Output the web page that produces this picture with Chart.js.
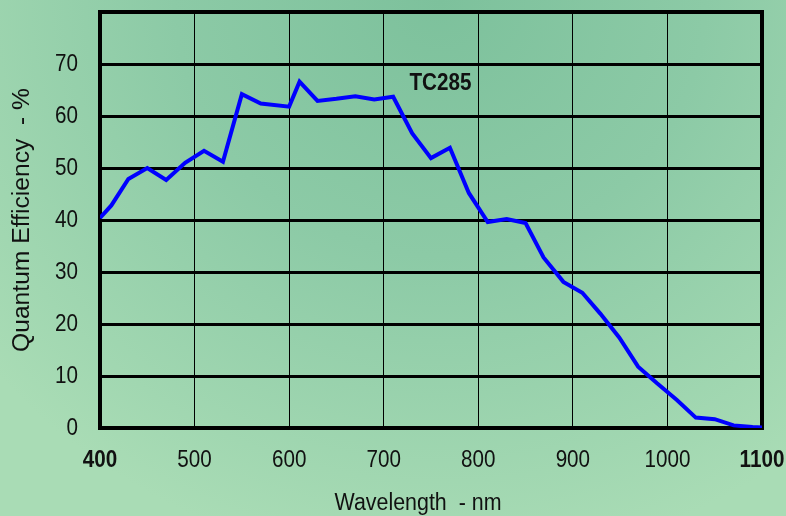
<!DOCTYPE html>
<html>
<head>
<meta charset="utf-8">
<script src="https://cdn.jsdelivr.net/npm/chart.js@4.4.0/dist/chart.umd.min.js"></script>
<style>
    html, body { margin: 0; padding: 0; }
    body {
        width: 786px;
        height: 516px;
        overflow: hidden;
        background: radial-gradient(ellipse 75% 110% at 56% 0%, #7dc19c 0%, #8ccaa6 45%, #a9dcb5 100%);
    }
    #wrap { position: relative; width: 786px; height: 516px; }
</style>
</head>
<body>
<div id="wrap"><canvas id="qe"></canvas></div>
<script>
// wavelength (nm) and quantum efficiency (%)
const wavelengths = [400, 412, 430, 450, 470, 490, 510, 530, 550, 570, 600, 611, 630, 650, 670, 690, 710,
    730, 750, 770, 790, 810, 830, 850, 869, 890, 910, 929, 949, 969, 989, 1010, 1030, 1050, 1070, 1090, 1100];
const efficiency = [40.4, 42.8, 47.9, 50.0, 47.7, 51.0, 53.3, 51.2, 64.2, 62.4, 61.8, 66.6, 62.9, 63.3, 63.8, 63.2, 63.7,
    56.7, 51.9, 53.9, 45.2, 39.6, 40.2, 39.4, 32.8, 28.1, 26.0, 22.0, 17.4, 11.8, 8.6, 5.4, 2.0, 1.7, 0.5, 0.2, 0.1];
const xTicks = [400, 500, 600, 700, 800, 900, 1000, 1100];
const boldXTicks = [400, 1100];
const yTicks = [0, 10, 20, 30, 40, 50, 60, 70];
const seriesName = 'TC285';

const sans = '"Liberation Sans", Arial, sans-serif';
const squeeze = 0.86; // the original uses a condensed face

let points = wavelengths.map((w, i) => ({ x: w, y: efficiency[i] }));

// frame around the plot area, drawn under the curve
const frame = {
    id: 'frame',
    beforeDatasetsDraw(chart) {
        const { ctx, chartArea: a } = chart;
        ctx.save();
        ctx.strokeStyle = '#000';
        ctx.lineWidth = 4;
        ctx.strokeRect(a.left, a.top, a.right - a.left, a.bottom - a.top);
        ctx.restore();
    }
};

function drawText(ctx, text, x, y, sx, rotate) {
    ctx.save();
    ctx.translate(x, y);
    if (rotate) { ctx.rotate(-Math.PI / 2); }
    ctx.scale(sx, 1);
    ctx.fillText(text, 0, 0);
    ctx.restore();
}

// text squeezed or stretched to a given width
function fitText(ctx, text, x, y, width, rotate) {
    drawText(ctx, text, x, y, width / ctx.measureText(text).width, rotate);
}

// tick labels, axis titles and the series label
const texts = {
    id: 'texts',
    afterDraw(chart) {
        const { ctx, scales, chartArea: a } = chart;
        ctx.save();
        ctx.fillStyle = '#111';
        ctx.textBaseline = 'middle';

        ctx.textAlign = 'right';
        ctx.font = '24px ' + sans;
        yTicks.forEach(v => drawText(ctx, String(v), 78, scales.y.getPixelForValue(v), squeeze, false));

        ctx.textAlign = 'center';
        xTicks.forEach(v => {
            ctx.font = (boldXTicks.includes(v) ? 'bold ' : '') + '24px ' + sans;
            drawText(ctx, String(v), scales.x.getPixelForValue(v), a.bottom + 32, squeeze, false);
        });

        ctx.font = '23px ' + sans;
        fitText(ctx, 'Wavelength  - nm', 418, 504, 167, false);
        fitText(ctx, 'Quantum Efficiency  - %', 23, 220, 264, true);

        ctx.font = 'bold 23px ' + sans;
        fitText(ctx, seriesName, scales.x.getPixelForValue(760), scales.y.getPixelForValue(66.2), 62, false);
        ctx.restore();
    }
};

new Chart(document.getElementById('qe'), {
    type: 'line',
    data: {
        datasets: [{
            label: seriesName,
            data: points,
            borderColor: '#0000ff',
            borderWidth: 4,
            pointRadius: 0,
            tension: 0,
            fill: false
        }]
    },
    options: {
        responsive: true,
        maintainAspectRatio: false,
        animation: false,
        devicePixelRatio: 1,
        layout: { padding: { left: 0, top: 12, right: 24, bottom: 0 } },
        plugins: { legend: { display: false }, tooltip: { enabled: false } },
        scales: {
            x: {
                type: 'linear',
                min: 400,
                max: 1100,
                afterBuildTicks: (scale) => { scale.ticks = xTicks.map(v => ({ value: v })); },
                afterFit: (scale) => {
                    scale.height = 88;
                    scale.paddingLeft = 0;
                    scale.paddingRight = 0;
                },
                border: { display: false },
                grid: { color: '#000', lineWidth: 1, drawTicks: false },
                ticks: { display: false }
            },
            y: {
                min: 0,
                max: 80,
                afterBuildTicks: (scale) => { scale.ticks = yTicks.map(v => ({ value: v })).concat([{ value: 80 }]); },
                afterFit: (scale) => {
                    scale.width = 100;
                    scale.paddingTop = 0;
                    scale.paddingBottom = 0;
                },
                border: { display: false },
                grid: { color: '#000', lineWidth: 3, drawTicks: false },
                ticks: { display: false }
            }
        }
    },
    plugins: [frame, texts]
});
</script>
</body>
</html>
